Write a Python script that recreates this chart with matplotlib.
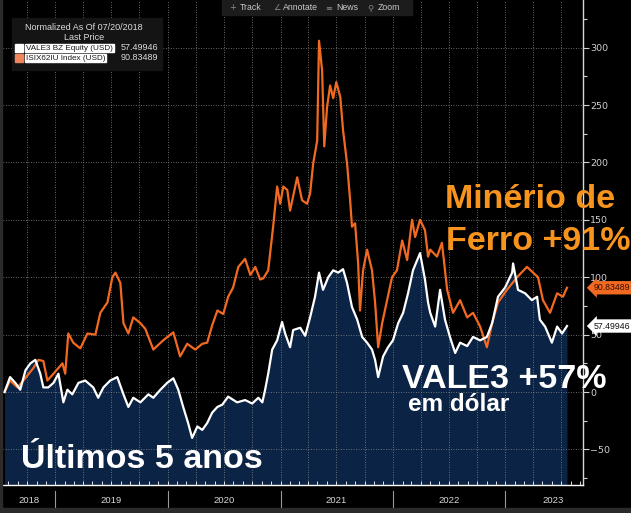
import matplotlib
matplotlib.use('Agg')
import matplotlib.pyplot as plt
import matplotlib.dates as mdates
import matplotlib.transforms as mtransforms
from matplotlib.patches import Rectangle
import pandas as pd

# VALE3 BZ Equity (USD), normalized as of 07/20/2018
vale_dates = [
    '2018-07-20', '2018-08-07', '2018-08-24', '2018-09-09', '2018-09-26', '2018-10-12',
    '2018-10-28', '2018-11-13', '2018-11-23', '2018-12-09', '2018-12-26', '2019-01-11',
    '2019-01-27', '2019-02-09', '2019-02-25', '2019-03-17', '2019-04-08', '2019-05-04',
    '2019-05-20', '2019-06-06', '2019-06-28', '2019-07-21', '2019-08-10', '2019-08-26',
    '2019-09-11', '2019-10-04', '2019-10-30', '2019-11-15', '2019-12-08', '2019-12-30',
    '2020-01-19', '2020-02-04', '2020-02-20', '2020-03-07', '2020-03-20', '2020-04-06',
    '2020-04-22', '2020-05-08', '2020-05-24', '2020-06-10', '2020-06-26', '2020-07-15',
    '2020-08-13', '2020-09-08', '2020-10-01', '2020-10-21', '2020-11-03', '2020-11-12',
    '2020-11-22', '2020-12-05', '2020-12-21', '2021-01-06', '2021-01-16', '2021-02-01',
    '2021-02-11', '2021-03-06', '2021-03-22', '2021-04-07', '2021-04-23', '2021-05-06',
    '2021-05-19', '2021-06-05', '2021-06-21', '2021-07-07', '2021-07-23', '2021-08-05',
    '2021-08-21', '2021-09-07', '2021-09-23', '2021-10-09', '2021-10-25', '2021-11-04',
    '2021-11-14', '2021-11-30', '2021-12-16', '2022-01-01', '2022-01-18', '2022-02-03',
    '2022-02-19', '2022-03-07', '2022-03-30', '2022-04-15', '2022-04-25', '2022-05-02',
    '2022-05-18', '2022-06-03', '2022-06-19', '2022-07-05', '2022-07-22', '2022-08-07',
    '2022-08-30', '2022-09-18', '2022-10-11', '2022-11-02', '2022-11-19', '2022-12-08',
    '2022-12-31', '2023-01-23', '2023-01-26', '2023-02-11', '2023-03-06', '2023-03-28',
    '2023-04-14', '2023-04-23', '2023-05-10', '2023-06-01', '2023-06-18', '2023-07-04',
    '2023-07-20',
]
vale_vals = [
    0, 13, 8, 2, 19, 25,
    28, 16, 4, 4, 8, 16,
    -9, 2, -2, 8, 10, 4,
    -5, 4, 10, 13, -2, -13,
    -5, -9, -2, -5, 2, 8,
    12, 2, -13, -27, -40, -30,
    -33, -27, -18, -13, -11, -4,
    -9, -7, -10, -5, -9, 2,
    16, 37, 45, 61, 51, 39,
    54, 56, 49, 65, 83, 104,
    89, 100, 106, 104, 107, 95,
    74, 63, 48, 43, 37, 28,
    13, 31, 39, 45, 60, 69,
    86, 106, 121, 98, 78, 69,
    57, 89, 63, 48, 34, 43,
    40, 48, 45, 48, 60, 83,
    91, 104, 112, 89, 86, 80,
    83, 63, 57, 43, 57, 51,
    57.49946,
]

# ISIX62IU Index (USD), iron ore
ore_dates = [
    '2018-07-20', '2018-08-07', '2018-08-31', '2018-09-19', '2018-10-22', '2018-11-07',
    '2018-11-23', '2018-12-06', '2018-12-26', '2019-01-24', '2019-02-02', '2019-02-12',
    '2019-02-28', '2019-03-23', '2019-04-15', '2019-05-11', '2019-05-27', '2019-06-19',
    '2019-07-05', '2019-07-15', '2019-07-31', '2019-08-10', '2019-08-26', '2019-09-11',
    '2019-10-04', '2019-10-20', '2019-11-15', '2019-12-17', '2020-01-19', '2020-02-10',
    '2020-03-04', '2020-03-30', '2020-04-22', '2020-05-08', '2020-05-24', '2020-06-10',
    '2020-06-29', '2020-07-15', '2020-07-31', '2020-08-17', '2020-09-08', '2020-09-25',
    '2020-10-11', '2020-10-27', '2020-11-06', '2020-11-22', '2020-12-08', '2020-12-21',
    '2020-12-31', '2021-01-10', '2021-01-23', '2021-02-01', '2021-02-24', '2021-03-12',
    '2021-03-28', '2021-04-07', '2021-04-17', '2021-04-30', '2021-05-06', '2021-05-16',
    '2021-05-23', '2021-06-01', '2021-06-11', '2021-06-21', '2021-07-01', '2021-07-14',
    '2021-07-23', '2021-08-05', '2021-08-15', '2021-08-21', '2021-08-31', '2021-09-10',
    '2021-09-16', '2021-09-26', '2021-10-09', '2021-10-25', '2021-11-04', '2021-11-14',
    '2021-11-27', '2021-12-13', '2021-12-29', '2022-01-14', '2022-01-31', '2022-02-16',
    '2022-03-04', '2022-03-14', '2022-03-30', '2022-04-15', '2022-04-25', '2022-05-02',
    '2022-05-24', '2022-06-09', '2022-06-26', '2022-07-15', '2022-08-07', '2022-08-30',
    '2022-09-18', '2022-10-11', '2022-11-02', '2022-11-19', '2022-12-08', '2023-01-06',
    '2023-02-08', '2023-03-12', '2023-04-01', '2023-04-17', '2023-05-03', '2023-05-26',
    '2023-06-18', '2023-07-07', '2023-07-20',
]
ore_vals = [
    0, 10, 4, 10, 21, 28,
    27, 10, 16, 25, 16, 51,
    43, 38, 51, 50, 69, 78,
    100, 104, 95, 60, 51, 65,
    60, 55, 37, 45, 52, 31,
    42, 37, 42, 43, 58, 71,
    68, 83, 91, 109, 116, 102,
    109, 98, 99, 106, 144, 179,
    164, 179, 176, 158, 187, 167,
    164, 173, 199, 219, 306, 280,
    214, 248, 267, 256, 270, 257,
    228, 199, 167, 144, 147, 112,
    71, 106, 124, 106, 78, 39,
    60, 80, 100, 106, 132, 115,
    150, 135, 150, 141, 118, 124,
    118, 130, 89, 69, 80, 65,
    69, 57, 39, 60, 78, 89,
    100, 109, 104, 100, 80, 69,
    86, 83, 90.83489,
]

year_labels = ['2018', '2019', '2020', '2021', '2022', '2023']
year_label_dates = ['2018-10-08', '2019-07-01', '2020-07-01', '2021-07-01', '2022-07-01', '2023-06-05']
year_starts = ['2019-01-01', '2020-01-01', '2021-01-01', '2022-01-01', '2023-01-01']

BG = 'black'
NAVY = '#0b2446'
ORANGE = '#f26a21'
TEXT_ORANGE = '#f7941d'

vale_x = pd.to_datetime(vale_dates)
ore_x = pd.to_datetime(ore_dates)

W, H = 631, 513
fig = plt.figure(figsize=(W / 100, H / 100), dpi=100, facecolor=BG)
ax = fig.add_axes([3 / W, 1 - 485 / H, 580 / W, 485 / H], facecolor=BG)

ax.set_xlim(pd.Timestamp('2018-07-15'), pd.Timestamp('2023-09-10'))
ax.set_ylim(-81, 341.5)

# area under VALE3 down to the bottom of the axes
ax.fill_between(vale_x, vale_vals, -81, color=NAVY, lw=0, zorder=1)
ax.plot(ore_x, ore_vals, color=ORANGE, lw=1.6, zorder=4)
ax.plot(vale_x, vale_vals, color='white', lw=1.6, zorder=5)

# grid
ax.xaxis.set_major_locator(mdates.MonthLocator(bymonth=[1, 4, 7, 10]))
ax.xaxis.set_minor_locator(mdates.MonthLocator())
ax.set_yticks(range(-50, 301, 50))
ax.set_yticks(range(-75, 326, 25), minor=True)
ax.grid(True, which='major', color='#8a8a8a', ls=(0, (1, 2)), lw=0.6, zorder=2)
ax.set_axisbelow(False)
for gl in ax.get_xgridlines() + ax.get_ygridlines():
    gl.set_zorder(2)

ax.yaxis.tick_right()
ax.tick_params(axis='y', which='both', colors='#d0d0d0', labelsize=6.8, direction='out',
               length=4, width=0.8, pad=1)
ax.tick_params(axis='y', which='minor', length=3)
ax.tick_params(axis='x', which='both', direction='in', colors='white', length=3,
               width=0.6, labelbottom=False)

for s in ['top', 'left']:
    ax.spines[s].set_visible(False)
ax.spines['right'].set_color('#d8d8d8')
ax.spines['right'].set_linewidth(1.0)
ax.spines['bottom'].set_color('white')
ax.spines['bottom'].set_linewidth(1.0)

# year labels and separators under the axis
trans = mtransforms.blended_transform_factory(ax.transData, ax.transAxes)
for lab, d in zip(year_labels, year_label_dates):
    ax.text(pd.Timestamp(d), -0.031, lab, transform=trans, ha='center', va='center',
            color='#d8d8d8', fontsize=6.8, family='Liberation Sans', clip_on=False)
for d in year_starts:
    ax.plot([pd.Timestamp(d)] * 2, [-0.012, -0.045], transform=trans, color='#9a9a9a',
            lw=0.8, clip_on=False)

# last value tags
for val, fc, tc in [(ore_vals[-1], ORANGE, '#3b0c00'), (vale_vals[-1], 'white', '#111111')]:
    ax.annotate(f'{val:.5f}', xy=(1.0, val), xycoords=('axes fraction', 'data'),
                xytext=(8, 0), textcoords='offset points', ha='left', va='center',
                fontsize=6.3, color=tc, family='Liberation Sans',
                bbox=dict(boxstyle='larrow,pad=0.25', fc=fc, ec='none'), zorder=10,
                annotation_clip=False)

# bottom band and left edge
fig.patches.append(Rectangle((0, 0), 1, 5 / H, transform=fig.transFigure,
                             color='#2b2b2b', zorder=0))
fig.patches.append(Rectangle((0, 0), 2 / W, 1, transform=fig.transFigure,
                             color='#2b2b2b', zorder=0))


def px(x, y):
    return x / W, 1 - y / H


# toolbar
fig.patches.append(Rectangle(px(222, 15), 190 / W, 15 / H, transform=fig.transFigure,
                             color='#1c1c1c', zorder=3))
for x, icon in [(229, '+'), (273, '∠'), (325, '≡'), (367, '⚲')]:
    fig.text(*px(x, 8), icon, color='#8a8a8a', fontsize=6, va='center', ha='left',
             family=['DejaVu Sans'], zorder=4)
for x, t in [(240, 'Track'), (283, 'Annotate'), (336, 'News'), (378, 'Zoom')]:
    fig.text(*px(x, 8), t, color='#c8c8c8', fontsize=6.3, va='center', ha='left',
             family='Liberation Sans', zorder=4)

# legend
fig.patches.append(Rectangle(px(12, 70), 150 / W, 52 / H, transform=fig.transFigure,
                             color='#141414', zorder=3))
fig.text(*px(84, 28), 'Normalized As Of 07/20/2018', color='#dcdcdc', fontsize=6.5,
         ha='center', va='center', family='Liberation Sans', zorder=4)
fig.text(*px(84, 38), 'Last Price', color='#dcdcdc', fontsize=6.5,
         ha='center', va='center', family='Liberation Sans', zorder=4)
for y, sq, name, val in [(48, 'white', 'VALE3 BZ Equity (USD)', '57.49946'),
                         (58, '#f0845a', 'ISIX62IU Index (USD)', '90.83489')]:
    fig.patches.append(Rectangle(px(15, y + 4), 8 / W, 8 / H, transform=fig.transFigure,
                                 color=sq, zorder=4))
    fig.text(*px(26, y), name, color='#1a1a1a', fontsize=5.9, ha='left', va='center',
             family='Liberation Sans', zorder=5,
             bbox=dict(boxstyle='square,pad=0.1', fc='white', ec='white'))
    fig.text(*px(121, y), val, color='#dcdcdc', fontsize=6.5, ha='left', va='center',
             family='Liberation Sans', zorder=5)

# annotations
big = dict(family='Liberation Sans', fontweight='bold', va='baseline', ha='left', zorder=6)
fig.text(*px(445, 208), 'Minério de', color=TEXT_ORANGE, fontsize=24.5, **big)
fig.text(*px(446, 250), 'Ferro +91%', color=TEXT_ORANGE, fontsize=24.5, **big)
fig.text(*px(402, 388), 'VALE3 +57%', color='white', fontsize=24.5, **big)
fig.text(*px(408, 411), 'em dólar', color='white', fontsize=17.5, **big)
fig.text(*px(21, 468), 'Últimos 5 anos', color='white', fontsize=24.5, **big)

fig.savefig('out.png', dpi=100, facecolor=BG)
